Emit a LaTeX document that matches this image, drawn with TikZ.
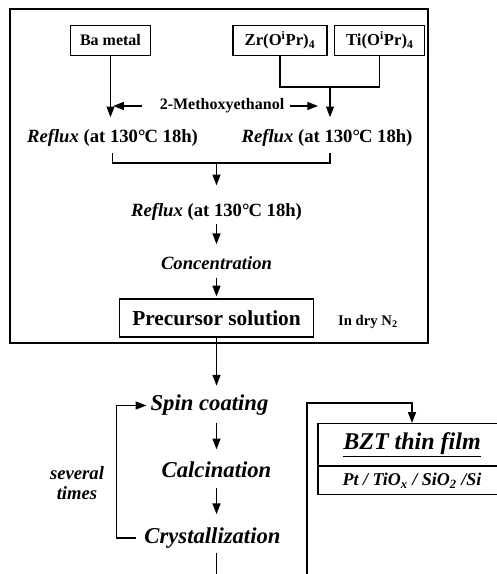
\documentclass[tikz,border=0pt]{standalone}
\usepackage{fontspec}
\setmainfont{Liberation Serif}
\usetikzlibrary{arrows.meta, positioning}

\begin{document}
\begin{tikzpicture}[
    x=0.75pt, y=-0.75pt,
    node distance=5pt,
    src/.style={rectangle, draw, line width=0.9pt, inner sep=0pt, minimum height=23pt, font=\fontsize{12.5}{14}\selectfont\bfseries},
    stage/.style={inner sep=3pt, font=\fontsize{14}{16}\selectfont\bfseries},
    proc/.style={inner sep=3pt, font=\fontsize{17}{19}\selectfont\bfseries\itshape},
    arrow/.style={-{Triangle[length=8pt,width=6pt]}, line width=0.9pt},
    link/.style={line width=0.9pt}
]
    \useasboundingbox (0,0) rectangle (496,574);

    % solution preparation (in dry N2)
    \draw [line width=1.3pt] (10,9) rectangle (428,343);
    \node [src, minimum width=60.5pt, font=\fontsize{12}{14}\selectfont\bfseries] (ba) at (110.5,40.5) {Ba metal};
    \node [src, minimum width=70.5pt] (zr) at (280,40.5) {Zr(O\textsuperscript{i}Pr)\textsubscript{4}};
    \node [src, minimum width=67.5pt, right=of zr] (ti) {Ti(O\textsuperscript{i}Pr)\textsubscript{4}};
    \node [stage, font=\fontsize{12}{14}\selectfont\bfseries] (meth) at (222,106) {2-Methoxyethanol};
    \node [stage] (rfxA) at (112.5,138) {\textit{Reflux} (at 130\textdegree\kern-0.05em C 18h)};
    \node [stage] (rfxB) at (327,138) {\textit{Reflux} (at 130\textdegree\kern-0.05em C 18h)};
    \node [stage] (rfxC) at (216.5,211.5) {\textit{Reflux} (at 130\textdegree\kern-0.05em C 18h)};
    \node [stage, font=\fontsize{14}{16}\selectfont\bfseries\itshape] (conc) at (216.5,263) {Concentration};
    \node [rectangle, draw, line width=0.9pt, minimum width=145pt, minimum height=28.5pt, font=\fontsize{16}{19}\selectfont\bfseries] (prec) at (216.5,318) {Precursor solution};
    \node [font=\fontsize{11}{13}\selectfont\bfseries] (dry) at (368,322) {In dry N\textsubscript{2}};

    \coordinate (join) at (330,87);
    \coordinate (mrg) at (216.5,163);
    \draw [arrow, shorten >=6pt] (ba.south) -- (ba.south |- rfxA.north);
    \draw [link] (zr.south) |- (ti.south |- join) -- (ti.south);
    \draw [arrow, shorten >=6pt] (join) -- (join |- rfxB.north);
    \draw [arrow, shorten <=10pt] (meth.west) -- ([xshift=2pt]meth.west -| ba.south);
    \draw [arrow, shorten <=1pt] (meth.east) -- ([xshift=-9pt]meth.east -| join);
    \draw [link, shorten <=2pt, shorten >=2pt] (rfxA.south) |- (mrg) -| (join |- rfxB.south);
    \draw [arrow, shorten >=10pt] (mrg) -- (rfxC.north);
    \draw [arrow, shorten >=6pt] (rfxC.south) -- (rfxC.south |- conc.north);
    \draw [arrow, shorten <=3pt, shorten >=1.5pt] (conc.south) -- (prec.north);

    % film deposition
    \node [proc] (spin) at (209.5,405.5) {Spin coating};
    \node [proc] (calc) at (216.5,469.5) {Calcination};
    \node [proc] (cryst) at (212.5,538) {Crystallization};
    \node [font=\fontsize{14}{15.5}\selectfont\bfseries\itshape, align=center] (times) at (77,483) {several\\times};
    \node [rectangle, draw, line width=0.9pt, minimum width=141pt, minimum height=31.5pt, font=\fontsize{18}{21}\selectfont\bfseries\itshape] (bzt) at (412,444.5) {\underline{BZT thin film}};
    \node [rectangle, draw, line width=0.9pt, minimum width=141pt, minimum height=21pt, below=0pt of bzt, font=\fontsize{13.5}{16}\selectfont\bfseries\itshape] (sub) {Pt / TiO\textsubscript{\textit{x}} / SiO\textsubscript{2} /Si};
    \draw [line width=1.8pt] (bzt.south west) -- (bzt.south east);

    \coordinate (botA) at (216.5,577);
    \coordinate (botB) at (307,577);
    \draw [arrow, shorten >=4pt] (prec.south) -- (prec.south |- spin.north);
    \draw [arrow, shorten <=2pt, shorten >=6pt] (calc.north |- spin.south) -- (calc.north);
    \draw [arrow, shorten <=4.5pt, shorten >=7pt] (calc.south) -- (calc.south |- cryst.north);
    \draw [link] (calc.south |- cryst.south) -- (botA);
    \draw [arrow, shorten <=3pt] (cryst.west) -- ++(-24,0) |- (spin.west);
    \draw [arrow] (botB) -- ++(0,-174) -| (bzt.north);
\end{tikzpicture}
\end{document}
